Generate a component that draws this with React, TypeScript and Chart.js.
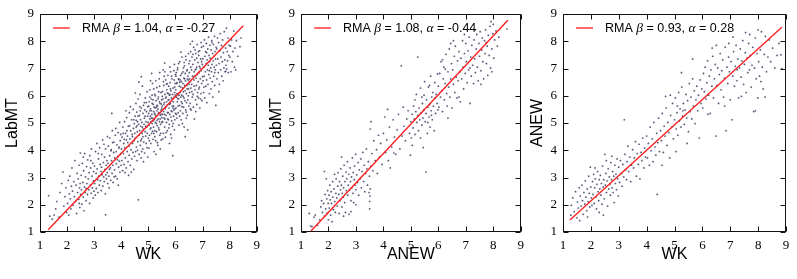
import React, { useEffect, useRef } from 'react';
import { Chart, registerables } from 'chart.js';
Chart.register(...registerables);

// ---------- data ----------
const tickValues = [1, 2, 3, 4, 5, 6, 7, 8, 9];
const panelXTitles = ['WK', 'ANEW', 'WK'];
const panelYTitles = ['LabMT', 'LabMT', 'ANEW'];
const fitSlopes = [1.04, 1.08, 0.93];
const fitIntercepts = [-0.27, -0.44, 0.28];
const fitXStart = [1.3, 1.34, 1.25];
const fitXEnd = [8.5, 8.53, 8.85];

// WK (x) vs LabMT (y)
const wkLabmt: [number, number][] = [
[1.32,2.33],[1.36,1.58],[1.45,1.47],[1.52,1.62],[1.58,1.85],[1.62,2.12],[1.7,1.55],[1.74,2.45],[1.8,2.78],[1.85,3.2],[1.88,1.95],[1.92,2.3],[1.96,2.62],[1.98,1.72],
[2.02,2.05],[2.04,2.9],[2.06,1.62],[2.08,2.4],[2.1,3.05],[2.12,2.22],[2.14,1.85],[2.16,2.68],[2.18,3.35],[2.2,2.5],[2.22,1.98],[2.25,2.85],[2.27,2.3],[2.29,3.62],[2.31,2.12],[2.33,2.72],[2.35,1.68],[2.37,3.15],[2.39,2.45],[2.41,2.95],[2.43,2.2],[2.44,3.45],[2.46,2.62],[2.47,1.9],[2.48,2.78],[2.49,3.9],[2.5,2.38],[2.45,2.05],
[2.52,3.08],[2.53,2.55],[2.55,2.02],[2.56,3.52],[2.58,2.82],[2.59,2.28],[2.61,3.25],[2.62,1.78],[2.64,2.65],[2.65,3.88],[2.67,2.45],[2.68,3.02],[2.7,2.15],[2.72,3.4],[2.73,2.78],[2.75,2.38],[2.76,3.65],[2.78,2.95],[2.8,2.55],[2.81,3.18],[2.83,2.05],[2.84,3.8],[2.86,2.72],[2.87,3.35],[2.89,2.42],[2.9,4.05],[2.92,3.05],[2.93,2.62],[2.95,3.52],[2.96,2.25],[2.97,2.88],[2.98,3.22],[2.99,2.5],[2.6,3.75],[2.7,2.6],[2.88,3.62],
[3.01,3.42],[3.02,2.78],[3.04,2.35],[3.05,3.95],[3.07,3.15],[3.08,2.6],[3.1,4.25],[3.11,3.32],[3.13,2.92],[3.14,2.45],[3.16,3.68],[3.17,3.05],[3.19,2.72],[3.2,4.1],[3.22,3.48],[3.23,2.88],[3.25,3.22],[3.26,2.52],[3.28,3.85],[3.29,3.1],[3.31,4.38],[3.32,2.68],[3.34,3.55],[3.35,3.02],[3.37,2.85],[3.38,3.75],[3.4,3.3],[3.41,2.4],[3.42,4.05],[3.44,3.45],[3.45,2.95],[3.42,1.63],[3.47,3.62],[3.48,3.18],[3.49,4.5],[3.5,2.78],[3.15,3.88],[3.27,3.38],[3.36,4.22],[3.43,3.1],
[3.51,3.52],[3.52,4.15],[3.54,3.05],[3.55,2.62],[3.57,3.8],[3.58,4.45],[3.6,3.35],[3.61,2.9],[3.63,4.02],[3.64,3.62],[3.66,3.15],[3.67,4.72],[3.69,3.45],[3.7,2.82],[3.72,3.92],[3.73,4.3],[3.75,3.28],[3.76,3.72],[3.78,4.55],[3.79,3.05],[3.81,3.95],[3.82,3.5],[3.84,4.2],[3.85,2.95],[3.87,3.78],[3.88,4.65],[3.9,3.38],[3.91,4.08],[3.93,3.6],[3.94,5.02],[3.95,3.2],[3.96,4.35],[3.97,3.85],[3.98,4.58],[3.99,3.45],[3.56,3.3],[3.62,3.98],[3.68,4.28],[3.74,3.02],[3.8,4.8],[3.86,3.65],[3.92,4.12],[3.65,5.35],[3.89,2.72],
[4.01,4.05],[4.02,3.62],[4.03,4.48],[4.05,3.25],[4.06,4.85],[4.08,3.88],[4.09,4.25],[4.1,3.48],[4.12,5.05],[4.13,4.1],[4.15,3.72],[4.16,4.62],[4.18,3.35],[4.19,4.38],[4.2,5.2],[4.22,3.95],[4.23,4.52],[4.25,3.58],[4.26,4.88],[4.28,4.15],[4.29,3.82],[4.3,5.38],[4.32,4.42],[4.33,3.45],[4.35,4.72],[4.36,4.02],[4.38,5.12],[4.39,3.68],[4.4,4.58],[4.42,4.25],[4.43,3.92],[4.44,5.5],[4.45,4.8],[4.46,3.3],[4.47,4.35],[4.48,4.98],[4.49,3.78],[4.5,4.62],[4.07,4.62],[4.14,3.18],[4.21,4.72],[4.27,3.08],[4.34,5.6],[4.41,4.5],[4.17,5.45],[4.37,3.2],[4.24,4.28],[4.31,4.9],[4.11,4.4],[4.46,5.12],
[4.51,5.25],[4.52,4.45],[4.53,3.95],[4.54,5.72],[4.55,4.85],[4.56,4.12],[4.57,5.4],[4.58,3.62],[4.59,4.68],[4.6,5.05],[4.61,4.32],[4.62,5.88],[4.63,2.18],[4.64,4.95],[4.65,4.55],[4.66,3.85],[4.67,5.28],[4.68,4.72],[4.69,6.05],[4.7,4.18],[4.71,5.12],[4.72,4.88],[4.73,3.72],[4.74,5.55],[4.75,4.42],[4.76,5.02],[4.77,4.62],[4.78,6.35],[4.79,4.05],[4.8,5.35],[4.81,4.78],[4.82,5.65],[4.83,4.3],[4.84,4.95],[4.85,5.18],[4.86,3.9],[4.87,5.48],[4.88,4.68],[4.89,5.92],[4.9,4.52],[4.91,5.05],[4.92,4.25],[4.93,5.42],[4.94,4.85],[4.95,6.15],[4.96,4.62],[4.97,5.25],[4.98,3.75],[4.99,5.02],[5.0,4.45],[4.55,5.1],[4.6,4.0],[4.65,6.5],[4.7,5.45],[4.75,3.95],[4.8,4.5],[4.85,5.75],[4.9,4.88],[4.95,4.1],[4.58,4.9],[4.68,5.6],[4.78,4.85],[4.88,5.25],[4.98,5.6],[4.62,5.25],[4.72,4.35],[4.82,3.58],[4.92,5.75],[4.52,6.1],[4.74,6.7],
[5.01,5.35],[5.02,4.92],[5.03,5.78],[5.04,4.55],[5.05,5.15],[5.06,6.22],[5.07,4.78],[5.08,5.52],[5.09,4.25],[5.1,5.05],[5.11,5.88],[5.12,4.62],[5.13,5.32],[5.14,4.98],[5.15,6.45],[5.16,5.18],[5.17,4.4],[5.18,5.68],[5.19,4.85],[5.2,5.42],[5.21,3.95],[5.22,5.12],[5.23,6.05],[5.24,4.72],[5.25,5.55],[5.26,5.02],[5.27,4.35],[5.28,5.82],[5.29,5.25],[5.3,4.68],[5.31,6.3],[5.32,5.45],[5.33,4.9],[5.34,5.62],[5.35,4.18],[5.36,5.15],[5.37,5.95],[5.38,4.82],[5.39,5.38],[5.4,6.62],[5.41,5.05],[5.42,4.55],[5.43,5.72],[5.44,5.28],[5.45,4.95],[5.46,6.12],[5.47,5.48],[5.48,4.38],[5.49,5.85],[5.5,5.2],
[5.015,5.62],[5.035,4.35],[5.055,5.95],[5.075,5.25],[5.095,4.82],[5.115,5.45],[5.135,6.02],[5.155,4.7],[5.175,5.08],[5.195,6.25],[5.215,5.58],[5.235,4.5],[5.255,5.3],[5.275,6.55],[5.295,4.98],[5.315,5.65],[5.335,4.28],[5.355,5.88],[5.375,5.35],[5.395,4.75],[5.415,6.35],[5.435,5.15],[5.455,4.62],[5.475,5.7],[5.495,5.02],
[5.02,4.08],[5.08,6.55],[5.14,5.72],[5.2,4.62],[5.26,6.0],[5.32,5.1],[5.38,6.15],[5.44,4.05],[5.5,5.55],[5.05,5.45],[5.11,5.18],[5.17,5.85],[5.23,5.35],[5.29,5.58],[5.35,5.52],[5.41,5.78],[5.47,5.32],[5.12,6.82],[5.28,3.85],[5.42,6.85],
[5.51,5.62],[5.52,6.15],[5.53,5.05],[5.54,5.88],[5.55,4.62],[5.56,5.42],[5.57,6.38],[5.58,5.18],[5.59,5.75],[5.6,4.85],[5.61,6.05],[5.62,5.52],[5.63,4.48],[5.64,6.58],[5.65,5.28],[5.66,5.95],[5.67,5.02],[5.68,6.22],[5.69,5.65],[5.7,4.72],[5.71,5.38],[5.72,6.75],[5.73,5.85],[5.74,5.12],[5.75,6.35],[5.76,5.55],[5.77,4.95],[5.78,6.02],[5.79,5.32],[5.8,6.48],[5.81,5.72],[5.82,4.58],[5.83,6.18],[5.84,5.45],[5.85,5.92],[5.86,5.08],[5.87,6.62],[5.88,5.62],[5.89,4.88],[5.9,3.8],[5.91,6.28],[5.92,5.78],[5.93,5.25],[5.94,6.92],[5.95,5.95],[5.96,4.75],[5.97,6.12],[5.98,5.52],[5.99,6.45],[6.0,5.35],
[5.515,5.98],[5.535,4.42],[5.555,6.52],[5.575,5.68],[5.595,5.32],[5.615,6.88],[5.635,5.92],[5.655,4.65],[5.675,5.78],[5.695,6.45],[5.715,5.15],[5.735,6.08],[5.755,4.82],[5.775,5.68],[5.795,7.05],[5.815,6.25],[5.835,5.22],[5.855,6.72],[5.875,5.42],[5.895,6.05],[5.915,4.98],[5.935,5.62],[5.955,6.58],[5.975,5.12],[5.995,6.02],
[5.52,5.32],[5.58,6.72],[5.64,5.58],[5.7,6.1],[5.76,5.85],[5.82,6.88],[5.88,5.88],[5.94,5.48],[6.0,6.78],[5.55,6.95],[5.61,5.15],[5.67,6.42],[5.73,5.38],[5.79,6.05],[5.85,4.45],[5.91,5.55],[5.97,6.32],[5.6,7.2],[5.78,4.25],[5.96,7.15],
[6.01,6.22],[6.02,5.55],[6.03,6.85],[6.04,5.95],[6.05,5.18],[6.06,6.48],[6.07,5.78],[6.08,7.02],[6.09,6.05],[6.1,5.38],[6.11,6.62],[6.12,5.88],[6.13,4.92],[6.14,6.35],[6.15,5.65],[6.16,7.25],[6.17,6.12],[6.18,5.45],[6.19,6.75],[6.2,5.95],[6.21,5.12],[6.22,6.52],[6.23,6.02],[6.24,7.42],[6.25,5.72],[6.26,6.28],[6.27,5.35],[6.28,6.88],[6.29,6.15],[6.3,5.58],[6.31,6.65],[6.32,4.85],[6.33,7.1],[6.34,6.38],[6.35,5.82],[6.36,4.5],[6.37,6.55],[6.38,5.48],[6.39,7.32],[6.4,6.08],[6.41,5.75],[6.42,6.92],[6.43,6.25],[6.44,5.28],[6.45,4.75],[6.46,6.72],[6.47,6.0],[6.48,7.55],[6.49,5.62],[6.5,6.42],
[6.015,6.72],[6.035,5.32],[6.055,6.08],[6.075,6.95],[6.095,5.62],[6.115,7.18],[6.135,6.02],[6.155,5.25],[6.175,6.58],[6.195,6.32],[6.215,5.78],[6.235,6.82],[6.255,4.98],[6.275,6.45],[6.295,7.02],[6.315,5.92],[6.335,6.62],[6.355,6.18],[6.375,7.45],[6.395,5.4],[6.415,6.38],[6.435,6.95],[6.455,5.85],[6.475,6.58],[6.495,7.18],
[6.04,6.45],[6.12,6.6],[6.2,7.6],[6.28,5.98],[6.36,6.82],[6.44,6.62],[6.08,5.9],[6.16,6.5],[6.24,5.6],[6.32,7.22],[6.4,5.18],[6.48,6.25],
[6.51,6.85],[6.52,6.12],[6.53,7.28],[6.54,5.72],[6.55,6.52],[6.56,7.62],[6.57,6.28],[6.58,5.48],[6.59,6.95],[6.6,6.42],[6.61,7.42],[6.62,5.95],[6.63,6.72],[6.64,7.15],[6.65,6.05],[6.66,5.58],[6.67,7.78],[6.68,6.58],[6.69,6.88],[6.7,5.15],[6.71,7.32],[6.72,6.22],[6.73,6.95],[6.74,5.85],[6.75,7.55],[6.76,6.65],[6.77,6.38],[6.78,7.05],[6.79,5.68],[6.8,7.88],[6.81,6.78],[6.82,6.12],[6.83,7.22],[6.84,6.52],[6.85,5.92],[6.86,7.48],[6.87,6.85],[6.88,6.32],[6.89,7.65],[6.9,5.55],[6.91,7.02],[6.92,6.62],[6.93,7.35],[6.94,6.08],[6.95,6.92],[6.96,7.78],[6.97,6.45],[6.98,5.82],[6.99,7.15],[7.0,6.7],
[6.525,6.62],[6.565,7.05],[6.605,6.15],[6.645,7.52],[6.685,6.35],[6.725,7.68],[6.765,6.98],[6.805,5.98],[6.845,7.62],[6.885,7.08],[6.925,5.88],[6.965,7.25],[6.545,5.52],[6.625,8.0],[6.705,6.72],[6.785,7.38],[6.865,6.25],[6.945,7.95],[6.55,7.9],[6.75,5.42],
[7.01,7.35],[7.02,6.55],[7.03,7.82],[7.04,6.12],[7.05,7.05],[7.06,6.72],[7.07,8.05],[7.08,5.92],[7.09,7.45],[7.1,6.88],[7.11,7.62],[7.12,6.35],[7.13,7.18],[7.14,7.92],[7.15,6.58],[7.16,5.75],[7.17,7.32],[7.18,6.95],[7.19,7.72],[7.2,6.42],[7.21,7.12],[7.22,8.15],[7.23,6.78],[7.24,7.48],[7.25,6.08],[7.26,7.25],[7.27,7.85],[7.28,6.65],[7.29,7.38],[7.3,7.02],[7.31,6.25],[7.32,7.68],[7.33,6.88],[7.34,8.02],[7.35,7.15],[7.36,6.52],[7.37,7.55],[7.38,5.95],[7.39,7.28],[7.4,7.88],[7.41,6.72],[7.42,7.45],[7.43,7.05],[7.44,8.18],[7.45,6.38],[7.46,7.62],[7.47,6.95],[7.48,7.35],[7.49,5.65],[7.5,7.78],
[7.05,6.32],[7.15,7.58],[7.25,6.92],[7.35,7.95],[7.45,6.85],
[7.51,7.12],[7.52,7.72],[7.53,6.62],[7.55,8.12],[7.56,7.35],[7.58,6.85],[7.59,7.95],[7.61,7.18],[7.62,6.42],[7.64,7.65],[7.65,8.28],[7.67,6.95],[7.68,7.42],[7.7,7.85],[7.71,6.72],[7.73,7.25],[7.74,8.05],[7.76,6.55],[7.77,7.58],[7.79,7.02],[7.8,8.35],[7.82,7.32],[7.83,6.88],[7.85,7.75],[7.86,7.12],[7.88,8.48],[7.89,6.98],[7.91,7.62],[7.92,7.28],[7.94,8.12],[7.95,6.85],[7.97,7.48],[7.98,7.85],[7.6,6.15],[7.85,6.9],
[8.01,7.42],[8.03,7.82],[8.05,6.88],[8.07,8.05],[8.1,7.25],[8.12,7.62],[8.15,8.38],[8.18,7.05],[8.2,7.75],[8.22,6.95],[8.25,8.02],[8.3,7.45],[8.38,7.8],[8.42,8.12]
];

// ANEW (x) vs LabMT (y)
const anewLabmt: [number, number][] = [
[1.3,1.68],[1.35,1.22],[1.4,1.2],[1.48,1.55],[1.52,1.62],[1.6,1.25],[1.68,1.45],[1.72,1.92],[1.75,2.15],[1.78,1.72],[1.82,2.05],[1.85,3.22],[1.86,1.58],[1.88,2.38],[1.9,1.85],[1.92,2.95],[1.94,2.22],[1.95,1.68],[1.97,2.52],[1.99,2.05],[2.0,1.45],[2.02,2.35],[2.03,1.88],[2.05,2.72],[2.06,2.18],[2.08,1.62],[2.1,2.48],[2.11,2.05],[2.13,1.38],[2.15,2.85],[2.16,2.28],[2.18,1.82],[2.2,2.58],[2.22,3.12],[2.23,2.12],[2.25,1.72],[2.27,2.42],[2.28,2.95],[2.3,2.25],[2.32,1.95],[2.34,2.68],[2.35,3.18],[2.37,2.38],[2.39,1.68],[2.4,2.85],[2.42,2.15],[2.44,2.55],[2.45,3.32],[2.47,2.72],[2.49,1.92],[2.5,2.42],[2.52,3.05],[2.54,2.28],[2.55,2.62],[2.57,3.45],[2.59,2.08],[2.6,2.85],[2.62,1.72],[2.64,3.2],[2.65,2.52],[2.67,2.95],[2.69,3.58],[2.7,2.35],[2.72,2.72],[2.74,3.12],[2.75,1.65],[2.77,2.55],[2.79,3.35],[2.8,2.85],[2.82,2.15],[2.84,3.02],[2.85,2.62],[2.87,3.72],[2.89,2.42],[2.9,3.18],[2.92,2.08],[2.94,2.92],[2.95,3.42],[2.97,2.72],[2.99,3.85],[3.0,2.55],[3.03,3.1],[3.06,2.82],[3.08,3.55],[3.1,2.35],[3.12,3.28],[3.15,2.95],[3.18,3.68],[3.2,2.62],[3.22,3.22],[3.25,3.92],[3.28,2.85],[3.3,3.45],[3.32,2.48],[3.35,3.15],[3.38,4.05],[3.4,3.32],[3.42,2.72],[3.45,3.58],[3.48,2.45],[3.5,1.85],[3.5,2.12],[3.51,2.32],[3.52,2.58],[3.49,3.05],[3.55,3.42],[2.55,1.58],[2.82,1.75],[3.0,2.0],[2.48,3.75],
[3.52,4.78],[3.55,5.05],[3.58,3.88],[3.62,3.25],[3.65,4.35],[3.7,3.62],[3.75,4.02],[3.78,3.15],[3.82,4.55],[3.85,3.75],[3.9,4.25],[3.95,3.48],[4.0,4.62],[4.05,5.22],[4.08,3.92],[4.12,4.38],[4.18,3.62],[4.22,4.85],[4.25,3.35],[4.3,4.12],[4.35,5.12],[4.4,4.48],[4.45,3.85],[4.5,4.75],[4.55,5.32],[4.6,4.05],[4.65,7.1],[4.68,4.52],[4.72,5.58],[4.75,4.88],[4.8,4.35],[4.85,5.15],[4.9,5.45],[4.95,4.62],[4.98,3.82],[4.38,3.9],[4.15,5.5],
[5.0,5.05],[5.02,4.45],[5.05,5.32],[5.08,4.82],[5.1,5.62],[5.12,5.15],[5.15,4.58],[5.18,5.42],[5.2,6.05],[5.22,5.02],[5.25,7.42],[5.25,5.28],[5.28,4.72],[5.3,5.55],[5.32,5.12],[5.35,6.28],[5.37,5.38],[5.4,4.92],[5.42,5.72],[5.44,5.18],[5.45,4.1],[5.47,5.48],[5.5,6.52],[5.52,5.05],[5.55,3.2],[5.55,5.35],[5.57,5.85],[5.6,4.62],[5.62,5.58],[5.64,6.32],[5.66,5.22],[5.68,5.68],[5.7,4.85],[5.72,6.72],[5.74,5.45],[5.76,5.95],[5.78,5.12],[5.8,6.12],[5.82,5.62],[5.85,4.72],[5.87,6.48],[5.9,5.35],[5.92,6.05],[5.95,5.72],[5.97,6.8],[5.99,5.48],[5.15,5.85],[5.35,4.45],[5.48,6.02],[5.62,5.02],[5.75,5.28],[5.88,5.92],[5.05,4.18],[5.68,6.38],[5.4,5.95],
[6.0,6.35],[6.02,5.58],[6.05,6.82],[6.08,5.95],[6.1,7.25],[6.12,6.18],[6.15,5.42],[6.18,6.62],[6.2,7.05],[6.22,5.85],[6.25,6.45],[6.28,7.52],[6.3,6.08],[6.32,5.62],[6.35,6.88],[6.38,6.32],[6.4,7.72],[6.42,5.95],[6.45,6.62],[6.48,7.18],[6.5,5.55],[6.52,6.95],[6.55,6.42],[6.58,7.45],[6.6,6.12],[6.62,7.82],[6.65,6.68],[6.68,5.92],[6.7,7.28],[6.72,6.55],[6.75,7.62],[6.78,6.88],[6.8,5.78],[6.82,7.38],[6.85,6.62],[6.88,8.02],[6.9,7.05],[6.92,6.25],[6.95,7.55],[6.98,6.82],[7.0,7.92],[7.02,7.25],[7.05,6.48],[7.08,7.65],[7.1,6.95],[7.12,8.15],[7.15,5.72],[7.18,7.42],[7.2,6.72],[7.22,7.85],[7.25,7.12],[7.28,6.45],[7.3,8.05],[7.32,7.35],[7.35,6.85],[7.38,7.72],[7.4,8.25],[7.42,7.05],[7.45,6.55],[7.48,7.92],[7.5,7.45],[7.52,8.35],[7.55,6.92],[7.58,7.68],[7.6,8.12],[7.62,7.25],[7.65,6.62],[7.68,8.02],[7.7,7.55],[7.72,8.42],[7.75,7.18],[7.78,7.82],[7.8,6.75],[7.82,8.22],[7.85,7.48],[7.88,8.55],[7.9,7.02],[7.92,8.72],[7.95,7.72],[7.98,8.28],[8.0,8.62],[8.02,7.38],[8.05,8.05],[8.1,8.38],[8.15,7.82],[8.2,8.15],[8.5,8.45],[6.15,7.32],[6.35,5.18],[6.55,8.02],[6.75,5.95],[6.95,8.25],[7.15,7.02],[7.35,8.42],[7.55,6.42],[7.75,7.95],[7.95,6.88],[6.25,6.98],[6.45,7.92]
];

// WK (x) vs ANEW (y)
const wkAnew: [number, number][] = [
[1.28,1.62],[1.3,1.98],[1.35,2.25],[1.4,1.75],[1.45,2.48],[1.5,1.52],[1.52,2.1],[1.55,1.88],[1.58,2.62],[1.6,1.42],[1.62,2.32],[1.65,1.95],[1.68,2.72],[1.7,2.15],[1.72,1.65],[1.75,2.45],[1.78,2.02],[1.8,2.88],[1.82,2.28],[1.85,1.78],[1.87,2.58],[1.9,2.12],[1.92,3.05],[1.94,2.42],[1.96,1.92],[1.98,3.38],[2.0,2.65],[2.02,2.25],[2.04,1.98],[2.06,2.85],[2.08,2.38],[2.1,3.12],[2.12,2.05],[2.14,2.62],[2.16,2.95],[2.18,2.28],[2.2,1.85],[2.22,2.75],[2.24,3.22],[2.26,2.48],[2.28,2.15],[2.3,2.92],[2.32,2.58],[2.34,3.08],[2.36,2.35],[2.38,2.78],[2.4,2.02],[2.42,3.42],[2.44,2.65],[2.46,2.92],[2.48,2.22],[2.5,3.85],[2.52,2.72],[2.54,3.15],[2.56,2.45],[2.58,2.88],[2.6,1.95],[2.62,3.32],[2.64,2.58],[2.66,3.02],[2.68,2.75],[2.7,2.35],[2.72,3.55],[2.74,2.92],[2.76,2.62],[2.78,3.22],[2.8,2.45],[2.82,3.05],[2.84,2.08],[2.86,3.45],[2.88,2.78],[2.9,3.12],[2.92,2.55],[2.94,3.68],[2.96,2.95],[2.98,2.32],[3.0,3.38],[3.03,2.82],[3.06,3.62],[3.09,3.15],[3.12,2.68],[3.15,3.48],[3.18,3.02],[3.2,5.12],[3.22,3.85],[3.25,3.28],[3.28,2.92],[3.3,3.58],[3.33,4.15],[3.36,3.22],[3.4,3.75],[3.43,2.85],[3.46,3.45],[3.5,4.02],[3.53,3.35],[3.56,3.72],[3.6,4.32],[3.63,3.05],[3.66,3.88],[3.7,3.48],[3.73,4.22],[3.76,2.95],[3.8,3.92],[3.83,3.62],[3.86,4.45],[3.9,3.35],[3.93,4.08],[3.96,3.75],[4.0,4.52],[2.3,1.72],[2.45,1.62],[1.88,1.55],[2.15,3.35],[2.55,3.62],[2.75,3.78],
[4.03,3.72],[4.06,4.25],[4.1,3.45],[4.13,4.85],[4.16,3.98],[4.2,4.42],[4.23,3.58],[4.26,5.02],[4.3,4.12],[4.33,3.82],[4.36,4.62],[4.38,2.38],[4.4,4.28],[4.43,5.18],[4.46,3.95],[4.5,4.72],[4.53,4.35],[4.56,5.35],[4.6,3.92],[4.63,4.88],[4.66,4.52],[4.7,5.55],[4.73,4.18],[4.76,5.02],[4.8,4.65],[4.83,3.72],[4.86,5.28],[4.9,4.85],[4.93,5.72],[4.96,4.42],[5.0,5.12],[5.03,5.92],[5.06,4.78],[5.09,5.38],[5.12,4.55],[5.15,6.12],[5.18,5.08],[5.2,5.52],[5.23,4.85],[5.26,6.32],[5.29,5.25],[5.32,5.72],[5.35,4.95],[5.38,5.48],[5.41,6.05],[5.44,5.18],[5.47,5.82],[5.5,4.68],[5.53,6.45],[5.56,5.42],[5.59,5.95],[5.62,5.15],[5.65,6.62],[5.68,5.62],[5.71,6.18],[5.74,4.98],[5.77,5.85],[5.8,6.35],[5.83,5.45],[5.86,6.02],[5.89,4.45],[5.92,6.58],[5.95,5.72],[5.98,6.25],[4.55,3.45],[4.85,6.02],[5.05,3.95],[5.25,6.85],[5.45,4.25],[5.65,7.35],[5.1,5.62],[5.3,5.45],[4.68,5.98],
[6.01,5.55],[6.04,6.82],[6.07,6.15],[6.1,7.05],[6.13,5.88],[6.16,6.48],[6.19,7.28],[6.22,6.02],[6.25,6.72],[6.28,5.35],[6.31,6.95],[6.34,6.35],[6.37,7.45],[6.4,5.92],[6.43,6.62],[6.46,7.15],[6.49,4.52],[6.52,6.38],[6.55,7.02],[6.58,5.72],[6.61,6.78],[6.64,7.55],[6.67,6.22],[6.7,6.92],[6.73,7.32],[6.76,5.95],[6.79,6.65],[6.82,7.78],[6.85,4.72],[6.88,7.05],[6.91,6.45],[6.94,7.42],[6.97,6.88],[7.0,5.85],[7.03,7.25],[7.06,5.12],[7.09,6.72],[7.12,7.62],[7.15,6.35],[7.18,7.08],[7.21,7.85],[7.24,6.55],[7.27,7.35],[7.3,5.92],[7.33,7.02],[7.36,7.72],[7.39,6.68],[7.42,7.28],[7.45,8.02],[7.48,6.42],[7.51,7.15],[7.54,7.58],[7.57,6.12],[7.6,7.38],[7.63,6.85],[7.66,7.92],[7.69,6.95],[7.72,7.48],[7.75,6.32],[7.78,7.12],[7.81,7.78],[7.84,5.42],[7.87,7.02],[7.9,8.12],[7.93,6.62],[7.96,7.55],[7.99,5.92],[8.02,7.25],[8.05,6.72],[8.08,7.68],[8.12,8.35],[8.15,7.05],[8.18,6.25],[8.22,7.52],[8.26,8.18],[8.3,6.88],[8.35,7.42],[8.4,8.05],[8.45,7.25],[8.52,7.75],[8.6,7.02],[8.68,7.48],[8.75,7.92],[8.82,7.5],[8.85,7.0],[6.2,5.32],[6.5,7.85],[6.8,5.62],[7.1,8.15],[7.4,5.98],[7.7,8.25],[8.0,8.42],[8.25,5.95],[7.9,5.45],[6.35,7.75],[6.95,7.92],[7.25,6.95],[7.55,8.32],[8.1,6.52]
];

const panelData = [wkLabmt, anewLabmt, wkAnew];

// ---------- layout / style ----------
const boxes = [
  { left: 0, width: 266, plotLeft: 40, plotRight: 259, yTitlePad: 5 },
  { left: 266, width: 264, plotLeft: 301, plotRight: 524, yTitlePad: 3 },
  { left: 530, width: 267, plotLeft: 563, plotRight: 786, yTitlePad: 0 },
];
const H = 279;
const PLOT_TOP = 14;
const PLOT_BOTTOM = 232;
const SANS = '"Liberation Sans", Arial, sans-serif';
const SERIF = '"Liberation Serif", "DejaVu Serif", serif';

function makePlugin(i: number) {
  return {
    id: 'frame' + i,
    afterDraw(chart: any) {
      const { ctx, chartArea } = chart;
      const xs = chart.scales.x;
      const ys = chart.scales.y;
      const l = Math.round(chartArea.left) + 0.5;
      const r = Math.round(chartArea.right) - 0.5;
      const t = Math.round(chartArea.top) + 0.5;
      const b = Math.round(chartArea.bottom) - 0.5;
      ctx.save();
      ctx.strokeStyle = '#111';
      ctx.lineWidth = 1;
      ctx.strokeRect(l, t, r - l, b - t);
      const tl = 5;
      ctx.beginPath();
      tickValues.forEach((v) => {
        const px = Math.round(xs.getPixelForValue(v)) + 0.5;
        ctx.moveTo(px, b); ctx.lineTo(px, b - tl);
        ctx.moveTo(px, t); ctx.lineTo(px, t + tl);
        const py = Math.round(ys.getPixelForValue(v)) + 0.5;
        ctx.moveTo(l, py); ctx.lineTo(l + tl, py);
        ctx.moveTo(r, py); ctx.lineTo(r - tl, py);
      });
      ctx.stroke();

      // legend
      const ly = chartArea.top + 14;
      const lx = chartArea.left + 13;
      ctx.strokeStyle = '#ff1a1a';
      ctx.lineWidth = 1.3;
      ctx.beginPath();
      ctx.moveTo(lx, ly); ctx.lineTo(lx + 17, ly);
      ctx.stroke();
      const parts: [string, string][] = [
        ['RMA ', '12.5px ' + SANS],
        ['\u03b2', 'italic 13.5px ' + SERIF],
        [' = ' + fitSlopes[i].toFixed(2) + ', ', '12.5px ' + SANS],
        ['\u03b1', 'italic 13.5px ' + SERIF],
        [' = ' + fitIntercepts[i].toFixed(2), '12.5px ' + SANS],
      ];
      let tx = lx + 29;
      ctx.fillStyle = '#000';
      ctx.textBaseline = 'middle';
      ctx.textAlign = 'left';
      parts.forEach(([s, f]) => {
        ctx.font = f;
        ctx.fillText(s, tx, ly + 0.5);
        tx += ctx.measureText(s).width;
      });
      ctx.restore();
    },
  };
}

function Panel({ i }: { i: number }) {
  const ref = useRef<HTMLCanvasElement>(null);
  useEffect(() => {
    const box = boxes[i];
    const pts = panelData[i].map(([x, y]) => ({ x, y }));
    const fitLine = [fitXStart[i], fitXEnd[i]].map((x) => ({ x, y: fitSlopes[i] * x + fitIntercepts[i] }));
    const chart = new Chart(ref.current as HTMLCanvasElement, {
      type: 'scatter',
      data: {
        datasets: [
          {
            type: 'line',
            label: 'RMA',
            data: fitLine,
            borderColor: '#ff1a1a',
            borderWidth: 1.3,
            pointRadius: 0,
            order: 0,
          } as any,
          {
            label: 'points',
            data: pts,
            pointRadius: 0.85,
            pointBorderWidth: 0.6,
            backgroundColor: 'rgba(35,35,45,0.8)',
            borderColor: 'rgba(150,150,220,0.35)',
            order: 1,
          },
        ],
      },
      options: {
        animation: false,
        responsive: false,
        maintainAspectRatio: false,
        events: [],
        layout: { padding: { top: PLOT_TOP, right: box.width - (box.plotRight - box.left), bottom: 0, left: 0 } },
        plugins: { legend: { display: false }, tooltip: { enabled: false } },
        scales: {
          x: {
            type: 'linear',
            min: 1,
            max: 9,
            ticks: { stepSize: 1, color: '#000', font: { family: SERIF, size: 13 }, padding: 6, maxRotation: 0, autoSkip: false },
            grid: { display: false, drawTicks: false },
            border: { display: false },
            title: { display: true, text: panelXTitles[i], color: '#000', font: { family: SANS, size: 16, lineHeight: 1 }, padding: { top: 0, bottom: 16 } },
            afterFit: (s: any) => { s.height = H - PLOT_BOTTOM; },
          },
          y: {
            type: 'linear',
            min: 1,
            max: 9,
            ticks: { stepSize: 1, color: '#000', font: { family: SERIF, size: 13 }, padding: 6, autoSkip: false },
            grid: { display: false, drawTicks: false },
            border: { display: false },
            title: { display: true, text: panelYTitles[i], color: '#000', font: { family: SANS, size: 16, lineHeight: 1 }, padding: { top: box.yTitlePad, bottom: 0 } },
            afterFit: (s: any) => { s.width = box.plotLeft - box.left; },
          },
        },
      } as any,
      plugins: [makePlugin(i)],
    });
    return () => chart.destroy();
  }, [i]);
  const box = boxes[i];
  return (
    <canvas
      ref={ref}
      width={box.width}
      height={H}
      style={{ position: 'absolute', left: box.left, top: 0, width: box.width, height: H }}
    />
  );
}

export default function App() {
  return (
    <div style={{ position: 'fixed', left: 0, top: 0, width: 797, height: H, background: '#fff' }}>
      {[0, 1, 2].map((i) => (
        <Panel key={i} i={i} />
      ))}
    </div>
  );
}
